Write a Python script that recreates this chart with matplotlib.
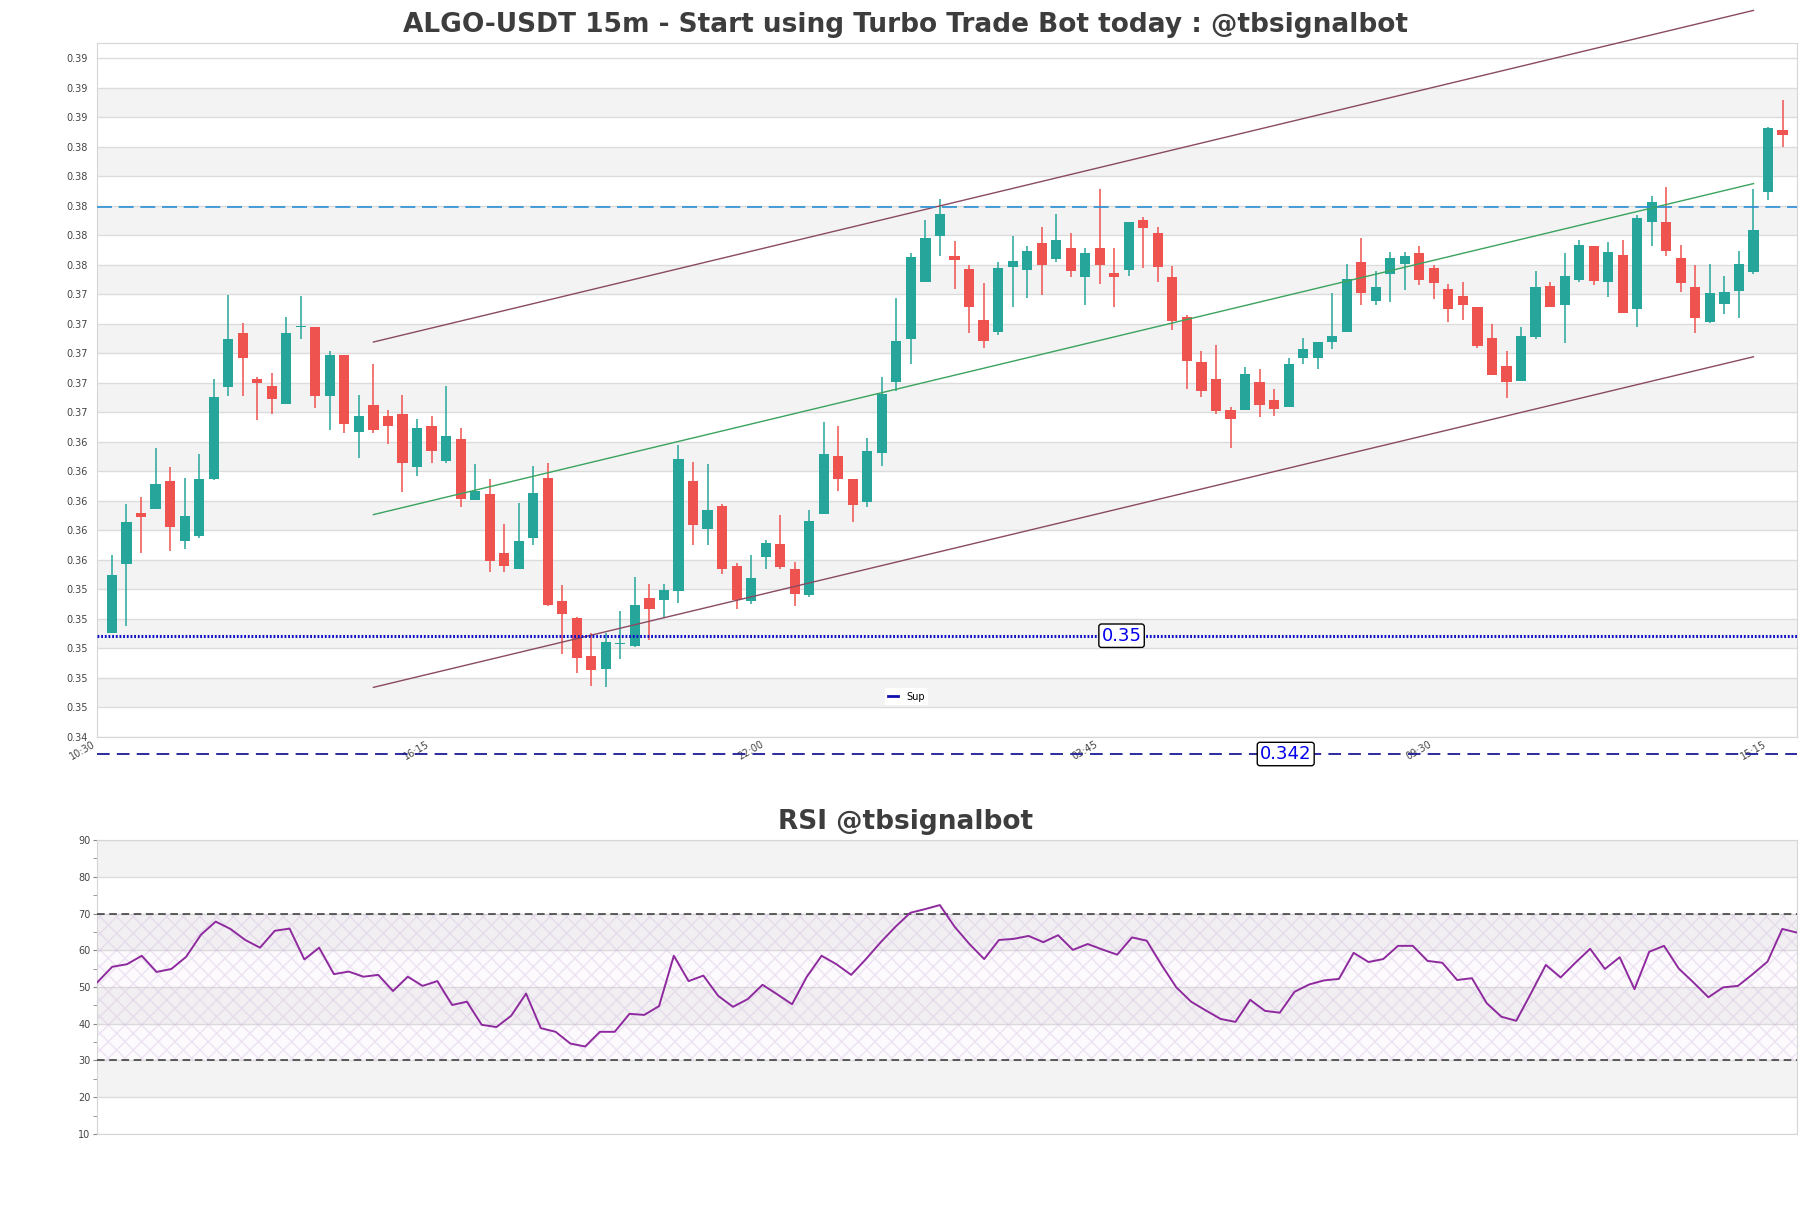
import numpy as np
import matplotlib
matplotlib.use("Agg")
import matplotlib.pyplot as plt
from matplotlib.lines import Line2D

# ---- data ----
opens = [0.35102, 0.35572, 0.35916, 0.35942, 0.36134, 0.35724, 0.35764, 0.36148, 0.36774, 0.3714,
         0.36826, 0.36778, 0.36656, 0.37176, 0.37178, 0.3671, 0.36988, 0.36468, 0.3665, 0.36576,
         0.36588, 0.36232, 0.36508, 0.36272, 0.36416, 0.36002, 0.36046, 0.35646, 0.35538, 0.3575,
         0.36152, 0.35318, 0.35206, 0.34946, 0.34862, 0.3503, 0.35014, 0.35344, 0.35326, 0.3539,
         0.36134, 0.35808, 0.35964, 0.35558, 0.35322, 0.3562, 0.35706, 0.35536, 0.3536, 0.35912,
         0.36302, 0.36146, 0.35994, 0.36326, 0.36808, 0.37098, 0.37484, 0.37796, 0.37662, 0.37568,
         0.37222, 0.37142, 0.37584, 0.37562, 0.3775, 0.37636, 0.37716, 0.37516, 0.3771, 0.37546,
         0.37562, 0.379, 0.37818, 0.3752, 0.37248, 0.36938, 0.36822, 0.36618, 0.36614, 0.36802,
         0.3668, 0.36634, 0.36966, 0.36966, 0.37074, 0.37142, 0.3762, 0.37354, 0.37536, 0.37604,
         0.37678, 0.37576, 0.37436, 0.37388, 0.37314, 0.371, 0.36914, 0.36814, 0.37108, 0.37456,
         0.3733, 0.37498, 0.37728, 0.3748, 0.37666, 0.373, 0.37892, 0.37888, 0.37646, 0.37448,
         0.37214, 0.37332, 0.37424, 0.37554, 0.38096, 0.38514]
highs = [0.35632, 0.35978, 0.36024, 0.36356, 0.36228, 0.36152, 0.36318, 0.36826, 0.37396, 0.37208,
         0.36838, 0.36868, 0.37246, 0.3739, 0.37178, 0.37012, 0.36988, 0.36718, 0.36926, 0.36612,
         0.36718, 0.36552, 0.36576, 0.36778, 0.36492, 0.3625, 0.36146, 0.35842, 0.35984, 0.36236,
         0.36254, 0.35428, 0.35212, 0.35102, 0.351, 0.35254, 0.35484, 0.35436, 0.35436, 0.36378,
         0.36264, 0.36248, 0.35978, 0.3558, 0.35632, 0.35734, 0.35902, 0.35586, 0.35936, 0.36532,
         0.36506, 0.36146, 0.36422, 0.36842, 0.37372, 0.37682, 0.37902, 0.38044, 0.3776, 0.37596,
         0.37476, 0.3762, 0.37798, 0.3773, 0.37858, 0.37946, 0.37818, 0.37714, 0.3811, 0.3771,
         0.37892, 0.37926, 0.37856, 0.37588, 0.3726, 0.37018, 0.37054, 0.36636, 0.36908, 0.36896,
         0.3676, 0.36966, 0.37104, 0.37076, 0.3741, 0.37606, 0.37778, 0.3756, 0.37688, 0.37688,
         0.37728, 0.376, 0.3747, 0.3748, 0.37314, 0.372, 0.37018, 0.37178, 0.37558, 0.37484,
         0.37678, 0.37768, 0.37728, 0.37754, 0.37768, 0.37938, 0.38064, 0.38126, 0.37732, 0.376,
         0.37606, 0.37524, 0.37694, 0.38112, 0.38536, 0.38716]
lows = [0.35102, 0.35152, 0.35648, 0.35942, 0.35662, 0.35672, 0.35746, 0.36142, 0.3671, 0.3671,
        0.36544, 0.36586, 0.36656, 0.37098, 0.36632, 0.3648, 0.36462, 0.36292, 0.36462, 0.36384,
        0.36062, 0.3617, 0.36254, 0.36254, 0.3596, 0.36002, 0.3552, 0.3552, 0.35538, 0.357,
        0.35288, 0.3496, 0.34832, 0.34744, 0.34738, 0.34924, 0.3501, 0.35056, 0.35202, 0.35308,
        0.357, 0.357, 0.355, 0.35268, 0.35302, 0.35538, 0.35538, 0.35286, 0.3535, 0.35912,
        0.36066, 0.35858, 0.3596, 0.36236, 0.36744, 0.3693, 0.37484, 0.3766, 0.37438, 0.37138,
        0.37036, 0.37122, 0.37314, 0.37372, 0.37394, 0.37616, 0.37516, 0.3733, 0.37472, 0.37314,
        0.37522, 0.37576, 0.37482, 0.37156, 0.36758, 0.36702, 0.36588, 0.36356, 0.36614, 0.36568,
        0.36572, 0.36634, 0.36928, 0.36892, 0.3703, 0.37142, 0.37328, 0.37328, 0.3735, 0.3743,
        0.37464, 0.37368, 0.37214, 0.37222, 0.37034, 0.36854, 0.36694, 0.36814, 0.37094, 0.3731,
        0.37072, 0.3748, 0.37464, 0.37384, 0.37272, 0.3718, 0.37724, 0.37656, 0.37412, 0.37136,
        0.37204, 0.37264, 0.37242, 0.37538, 0.38036, 0.38396]
closes = [0.35498, 0.35854, 0.35892, 0.36114, 0.35824, 0.35898, 0.36148, 0.36704, 0.37098, 0.3697,
          0.36796, 0.36692, 0.3714, 0.3718, 0.3671, 0.36988, 0.3652, 0.36576, 0.3648, 0.3651,
          0.36254, 0.36494, 0.3634, 0.3644, 0.36014, 0.36068, 0.35594, 0.3556, 0.35728, 0.3605,
          0.35294, 0.35232, 0.34934, 0.34852, 0.35042, 0.35034, 0.3529, 0.35268, 0.35394, 0.36282,
          0.35836, 0.35936, 0.35538, 0.35326, 0.35476, 0.35712, 0.35552, 0.3537, 0.35862, 0.36316,
          0.3615, 0.35972, 0.36336, 0.36722, 0.37086, 0.3765, 0.3778, 0.37942, 0.3763, 0.37314,
          0.37082, 0.3758, 0.37622, 0.3769, 0.37596, 0.3777, 0.37556, 0.37682, 0.37596, 0.3752,
          0.37892, 0.37848, 0.37584, 0.37216, 0.36946, 0.36742, 0.36606, 0.36554, 0.36862, 0.36652,
          0.36624, 0.3693, 0.3703, 0.37076, 0.3712, 0.37506, 0.37406, 0.37452, 0.37646, 0.3766,
          0.37498, 0.37474, 0.373, 0.37324, 0.37046, 0.36854, 0.36802, 0.37118, 0.37448, 0.3731,
          0.37524, 0.37734, 0.37492, 0.37688, 0.37272, 0.37916, 0.38026, 0.3769, 0.37474, 0.37236,
          0.37406, 0.37414, 0.37606, 0.37836, 0.38528, 0.38476]

rsi = [51.3, 55.5, 56.2, 58.5, 54.1, 54.9, 58.2, 64.2, 67.8, 65.8,
       62.8, 60.7, 65.3, 65.9, 57.5, 60.7, 53.5, 54.2, 52.8, 53.3,
       48.9, 52.8, 50.3, 51.6, 45.1, 46.0, 39.7, 39.1, 42.2, 48.2,
       38.8, 37.8, 34.6, 33.8, 37.8, 37.8, 42.7, 42.4, 44.8, 58.5,
       51.6, 53.1, 47.6, 44.6, 46.7, 50.6, 48.0, 45.3, 52.8, 58.5,
       56.2, 53.3, 57.6, 62.2, 66.4, 70.2, 71.2, 72.3, 66.4, 61.7,
       57.6, 62.8, 63.1, 63.9, 62.2, 64.1, 60.1, 61.7, 60.2, 58.8,
       63.5, 62.6, 56.0, 49.9, 46.0, 43.6, 41.3, 40.5, 46.5, 43.5,
       43.0, 48.7, 50.7, 51.8, 52.2, 59.3, 56.8, 57.6, 61.2, 61.2,
       57.1, 56.6, 51.9, 52.4, 45.6, 41.9, 40.8, 48.3, 56.0, 52.6,
       56.6, 60.4, 54.9, 58.1, 49.4, 59.6, 61.2, 55.0, 51.2, 47.2,
       49.9, 50.3, 53.5, 56.9, 65.8, 64.8]

time_labels = ["10:30", "16:15", "22:00", "03:45", "09:30", "15:15"]
time_label_idx = [-1, 22, 45, 68, 91, 114]

chan_x = [18, 113]
chan_upper = [0.37076, 0.39324]
chan_mid = [0.35906, 0.38150]
chan_lower = [0.34735, 0.36976]

support = 0.35085
resistance = 0.37988
low_level = 0.34283
support_label = "0.35"
low_label = "0.342"

price_ticks = 0.344 + 0.002 * np.arange(24)
rsi_ticks = [10, 20, 30, 40, 50, 60, 70, 80, 90]

# ---- plotting ----
UP, DOWN = "#26a69a", "#ef5350"
BAND, GRID, TXT = "#f3f3f3", "#dcdcdc", "#444444"
TITLE_X = (0.5 - 0.0538) / 0.9385   # titles are centred on the figure, not the axes

fig = plt.figure(figsize=(18.11, 12.08), dpi=100)
ax = fig.add_axes([0.0538, 0.3901, 0.9385, 0.5743])
ax2 = fig.add_axes([0.0538, 0.0613, 0.9385, 0.2433])

o, h, l, c = map(np.asarray, (opens, highs, lows, closes))
x = np.arange(len(o))
col = np.where(c >= o, UP, DOWN)

for k in range(1, 23, 2):
    ax.axhspan(price_ticks[k], price_ticks[k + 1], color=BAND, zorder=0, lw=0)
ax.vlines(x, l, h, colors=col, lw=1.1, zorder=2)
body_lo = np.minimum(o, c)
body_h = np.maximum(np.abs(c - o), 0.00006)
ax.bar(x, body_h, bottom=body_lo, width=0.7, color=col, lw=0, zorder=3)

ch = "#8a4a63"
ax.plot(chan_x, chan_upper, color=ch, lw=1, clip_on=False, zorder=4)
ax.plot(chan_x, chan_lower, color=ch, lw=1, clip_on=False, zorder=4)
ax.plot(chan_x, chan_mid, color="#3aa35e", lw=1, zorder=4)

ax.axhline(resistance, color="#2a8fd4", lw=1.2, ls=(0, (9, 4)), zorder=4)
ax.axhline(support, color="#1010c8", lw=2.2, ls=(0, (0.6, 0.6)), zorder=4)
ax.axhline(low_level, color="#1a1a9a", lw=1.3, ls=(0, (7, 4)), clip_on=False, zorder=4)

box = dict(boxstyle="round,pad=0.15", fc="white", ec="black", lw=1)
ax.text(69.5, support, support_label, color="#0000ee", fontsize=13, ha="center",
        va="center", bbox=box, zorder=6)
ax.text(80.8, low_level, low_label, color="#0000ee", fontsize=13, ha="center",
        va="center", bbox=box, zorder=6, clip_on=False)

ax.legend([Line2D([0], [0], color="#1010b0", lw=2)], ["Sup"], loc="center",
          bbox_to_anchor=(0.476, 0.058), fontsize=7, handlelength=1,
          frameon=True, edgecolor="none", framealpha=1)

ax.set_xlim(-1, 116)
ax.set_ylim(0.344, 0.39103)
ax.set_yticks(price_ticks)
ax.set_yticklabels([f"{t:.2f}" for t in price_ticks])
ax.set_xticks(time_label_idx)
ax.set_xticklabels(time_labels, rotation=30, ha="right")
ax.tick_params(axis="both", length=0, labelsize=7, colors=TXT)
ax.tick_params(axis="y", pad=7)
ax.tick_params(axis="x", pad=2)
ax.yaxis.grid(True, color=GRID, lw=1)
ax.set_axisbelow(True)
for s in ax.spines.values():
    s.set_color("#d6d6d6")
ax.set_title("ALGO-USDT 15m - Start using Turbo Trade Bot today : @tbsignalbot",
             fontsize=19, fontweight="bold", color="#3d3d3d", pad=8, x=TITLE_X)

# RSI panel
xr = np.arange(len(rsi))
for lo_, hi_ in [(20, 30), (40, 50), (60, 70), (80, 90)]:
    ax2.axhspan(lo_, hi_, color=BAND, zorder=0, lw=0)
ax2.fill_between(xr, 30, 70, facecolor=(0.85, 0.7, 0.9, 0.06),
                 edgecolor=(0.8, 0.68, 0.86, 0.30), hatch="xx", lw=0, zorder=1)
ax2.axhline(70, color="#333333", lw=1.1, ls=(0, (5, 3)), zorder=3)
ax2.axhline(30, color="#333333", lw=1.1, ls=(0, (5, 3)), zorder=3)
ax2.plot(xr, rsi, color="#8e2a9e", lw=1.4, zorder=4)
ax2.set_xlim(0, len(rsi) - 1)
ax2.set_ylim(10, 90)
ax2.set_yticks(rsi_ticks)
ax2.set_yticks(range(15, 90, 10), minor=True)
ax2.set_xticks([])
ax2.tick_params(axis="y", which="both", length=3, color="#888888", labelsize=7,
                colors=TXT, pad=2)
ax2.yaxis.grid(True, color=GRID, lw=1)
ax2.set_axisbelow(True)
for s in ax2.spines.values():
    s.set_color("#d6d6d6")
ax2.set_title("RSI @tbsignalbot", fontsize=19, fontweight="bold", color="#3d3d3d",
              pad=8, x=TITLE_X)

fig.savefig("out.png", dpi=100)
